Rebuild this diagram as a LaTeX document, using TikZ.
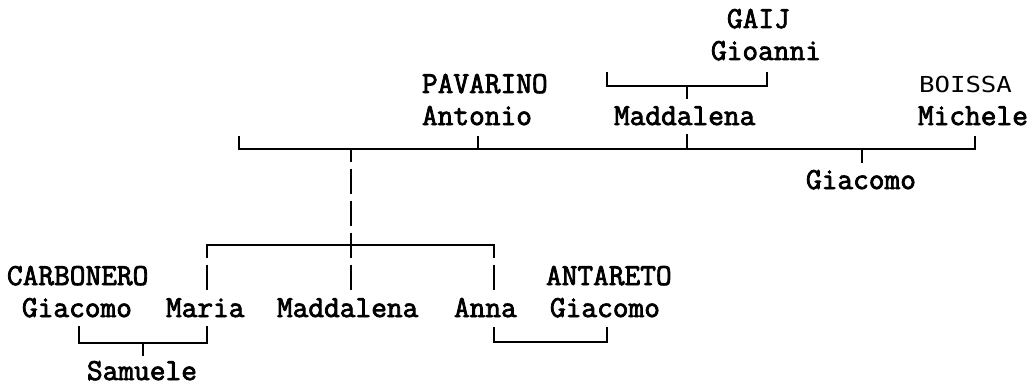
\documentclass[tikz,border=0pt]{standalone}
\usepackage{fontspec}
\newfontfamily\namefont[FakeBold=2.6]{Latin Modern Mono}
\newfontfamily\sansmono{DejaVu Sans Mono}
\begin{document}
\begin{tikzpicture}[x=1pt,y=-1pt,
  person/.style={anchor=base west,inner sep=0pt,outer sep=0pt,
    font=\fontsize{30.5}{32}\selectfont\namefont},
  lightname/.style={anchor=base west,inner sep=0pt,outer sep=0pt,
    font=\fontsize{22}{32}\selectfont\sansmono},
  bar/.style={line width=2pt,line cap=rect,line join=miter},
  vbar/.style={line width=2pt,dash pattern=on 25.5pt off 6.5pt,dash phase=12.5pt}]
\useasboundingbox[fill=white] (0,0) rectangle (1032,385);

% ---- names ----
\node[person] (gaij) at (727,28) {GAIJ};
\node[person] (gioanni) at (711,60) {Gioanni};
\node[person] (pavarino) at (422,93) {PAVARINO};
\node[person] (antonio) at (422,125) {Antonio};
\node[person] (maddT) at (614,125) {Maddalena};
\node[lightname] (boissa) at (919,93) {\scalebox{1.17}[1]{BOISSA}};
\node[person] (michele) at (918,125) {Michele};
\node[person] (giacR) at (806,189) {Giacomo};
\node[person] (carbonero) at (7,285) {CARBONERO};
\node[person] (giacL) at (22,317) {Giacomo};
\node[person] (maria) at (166,317) {Maria};
\node[person] (maddC) at (277,317) {Maddalena};
\node[person] (anna) at (454,317) {Anna};
\node[person] (antareto) at (546,285) {ANTARETO};
\node[person] (giacA) at (550,317) {Giacomo};
\node[person] (samuele) at (87,380) {Samuele};

% ---- junction points ----
\coordinate (gL) at (607,73);  \coordinate (gLb) at (607,86);
\coordinate (gR) at (767,73);  \coordinate (gRb) at (767,86);
\coordinate (gM) at (687,86);  \coordinate (gMd) at (687,98);

\coordinate (pL) at (239,137); \coordinate (pLb) at (239,149);
\coordinate (pR) at (975,137); \coordinate (pRb) at (975,149);
\coordinate (pA) at (478,137); \coordinate (pAb) at (478,149);
\coordinate (pM) at (687,135); \coordinate (pMb) at (687,149);
\coordinate (pG) at (862,149); \coordinate (pGd) at (862,162);
\coordinate (stemT) at (351,149); \coordinate (stemB) at (351,290);

\coordinate (cL) at (207,245); \coordinate (cLd) at (207,290);
\coordinate (cR) at (494,245); \coordinate (cRd) at (494,290);

\coordinate (sL) at (79,327);  \coordinate (sLb) at (79,343);
\coordinate (sR) at (207,327); \coordinate (sRb) at (207,343);
\coordinate (sM) at (143,343); \coordinate (sMd) at (143,355);

\coordinate (aL) at (494,328); \coordinate (aLb) at (494,342);
\coordinate (aR) at (607,328); \coordinate (aRb) at (607,342);

% ---- connectors ----
% GAIJ Gioanni -> Maddalena
\draw[bar] (gL) -- (gLb) -- (gRb) -- (gR);
\draw[bar] (gM) -- (gMd);
% PAVARINO Antonio + Maddalena + BOISSA Michele
\draw[bar] (pL) -- (pLb) -- (pRb) -- (pR);
\draw[bar] (pA) -- (pAb);
\draw[bar] (pM) -- (pMb);
\draw[bar] (pG) -- (pGd);
% children of Antonio and Maddalena
\draw[vbar] (stemT) -- (stemB);
\draw[bar] (cL) -- (cR);
\draw[vbar] (cL) -- (cLd);
\draw[vbar] (cR) -- (cRd);
% Giacomo + Maria -> Samuele
\draw[bar] (sL) -- (sLb) -- (sRb) -- (sR);
\draw[bar] (sM) -- (sMd);
% Anna + Giacomo
\draw[bar] (aL) -- (aLb) -- (aRb) -- (aR);
\end{tikzpicture}
\end{document}
